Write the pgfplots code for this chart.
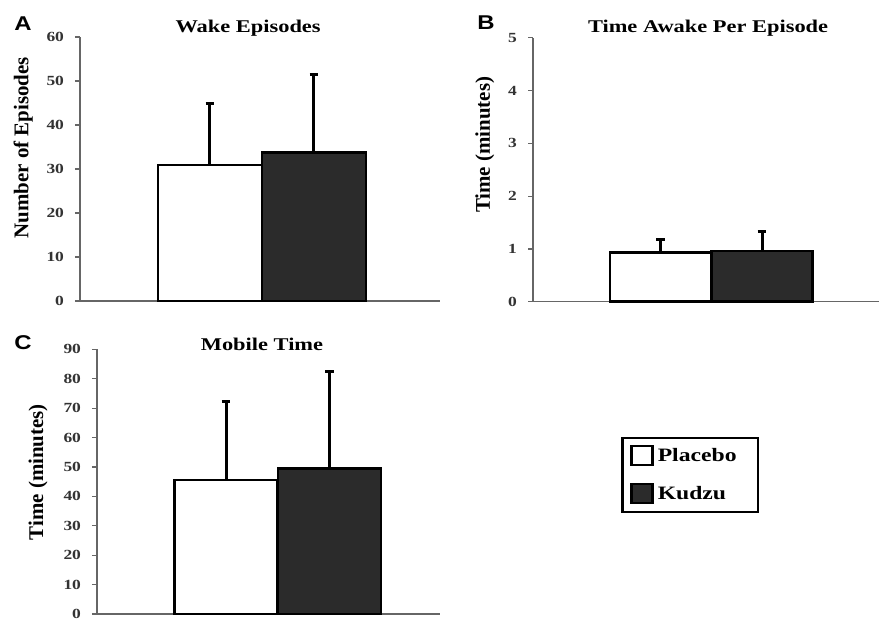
\documentclass[border=0pt]{standalone}
\usepackage{fontspec}
\setmainfont{Liberation Serif}[FakeStretch=1.25]
\newfontfamily\rotfont{Liberation Serif}
\newfontfamily\letterfont{Liberation Sans}[FakeStretch=1.2]
\usepackage{pgfplots}
\pgfplotsset{compat=1.18}
\definecolor{barDark}{HTML}{2B2B2B}
\definecolor{axisGray}{HTML}{666666}
\definecolor{tickGray}{HTML}{333333}
\pgfplotsset{
 panel/.style={
  scale only axis,
  axis x line=bottom, axis y line=left,
  axis line style={axisGray, line width=0.6bp, -},
  xtick=\empty,
  ymin=0, xmin=0, enlargelimits=false,
  tick align=outside, major tick length=2.5bp,
  ytick style={axisGray, line width=0.6bp},
  yticklabel style={font=\fontsize{7}{8}\selectfont\bfseries, text=tickGray, xshift=-2bp},
  /pgf/number format/assume math mode=true,
  every axis title shift=0pt,
  title style={font=\fontsize{9}{11}\selectfont\bfseries, anchor=center, yshift=0pt},
  error bars/error bar style={line width=1.5bp, black},
  clip=false,
 },
 ylab/.style 2 args={every axis y label/.style={at={(axis description cs:#1,#2)}, rotate=90, anchor=center,
    font=\rotfont\fontsize{10.5}{12}\selectfont\bfseries}},
 errstyle/.style={error bars/y dir=plus, error bars/y explicit,
   error bars/error bar style={line width=1.5bp, black},
   error bars/error mark=-, error bars/error mark options={rotate=90, mark size=2.2bp, line width=1.5bp, black}},
 placebo/.style={ybar, bar shift=0pt, fill=white, draw=black, line width=1.3bp, errstyle},
 kudzu/.style={ybar, bar shift=0pt, fill=barDark, draw=black, line width=1.3bp, errstyle},
}
\begin{document}
\begin{tikzpicture}
\path[use as bounding box] (0bp,0bp) rectangle (439.5bp,-311bp);
% Panel A
\begin{axis}[panel, at={(40bp,-150.5bp)}, anchor=south west,
  width=180bp, height=132bp, xmax=360, ymax=60, ytick={0,10,...,60},
  ylabel={Number of Episodes}, ylab={-0.158}{0.58},
  title={Wake Episodes}, title style={at={(axis description cs:0.467,1.034)}}]
\addplot[placebo, bar width=104] coordinates {(130,30.9) +- (0,13.9)};
\addplot[kudzu, bar width=104] coordinates {(234,33.7) +- (0,17.7)};
\end{axis}
% Panel B
\begin{axis}[panel, at={(266.5bp,-150.85bp)}, anchor=south west,
  width=173bp, height=132bp, xmax=346, ymax=5, ytick={0,1,...,5},
  ylabel={Time (minutes)}, ylab={-0.139}{0.594},
  title={Time Awake Per Episode}, title style={at={(axis description cs:0.506,1.037)}}]
\addplot[placebo, bar width=101] coordinates {(127.5,0.935) +- (0,0.245)};
\addplot[kudzu, bar width=101] coordinates {(229,0.96) +- (0,0.37)};
\end{axis}
% Panel C
\begin{axis}[panel, at={(48.5bp,-307bp)}, anchor=south west,
  width=171.5bp, height=132.35bp, xmax=343, ymax=90, ytick={0,10,...,90},
  ylabel={Time (minutes)}, ylab={-0.172}{0.536},
  title={Mobile Time}, title style={at={(axis description cs:0.481,1.02)}},
  legend image code/.code={\draw[#1, line width=1.2bp] (0bp,-4.5bp) rectangle (10.5bp,5bp);},
  legend cell align=left,
  legend style={at={(axis description cs:1.729,0.525)}, anchor=center, draw=black, line width=1.2bp,
    font=\fontsize{9.5}{11}\selectfont\bfseries, row sep=7bp, inner xsep=4bp, inner ysep=3bp}]
\addplot[placebo, bar width=103] coordinates {(129,45.6) +- (0,26.8)};
\addlegendentry{\makebox[44bp][l]{Placebo}}
\addplot[kudzu, bar width=103] coordinates {(232.5,49.5) +- (0,32.9)};
\addlegendentry{\makebox[44bp][l]{Kudzu}}
\end{axis}
\node[font=\letterfont\fontsize{10}{12}\selectfont\bfseries] at (11.5bp,-12bp) {A};
\node[font=\letterfont\fontsize{10}{12}\selectfont\bfseries] at (243bp,-11.5bp) {B};
\node[font=\letterfont\fontsize{10}{12}\selectfont\bfseries] at (11.5bp,-171.5bp) {C};
\end{tikzpicture}
\end{document}
